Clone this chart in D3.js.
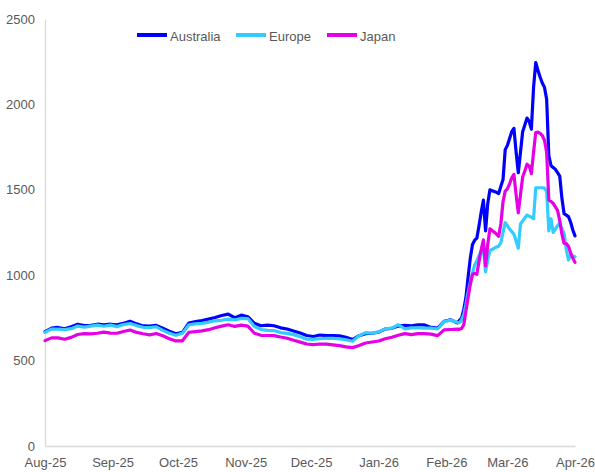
<!DOCTYPE html>
<html>
<head>
<meta charset="utf-8">
<script src="https://cdn.jsdelivr.net/npm/d3@7"></script>
<style>
  html, body { margin: 0; padding: 0; background: #ffffff; }
  svg { display: block; }
  text { font-family: "Liberation Sans", Arial, sans-serif; }
</style>
</head>
<body>
<svg id="chart" width="595" height="472"></svg>
<script>
// ---------- DATA ----------
const dates = [
  "2025-08-01","2025-08-04","2025-08-07","2025-08-10","2025-08-13","2025-08-16","2025-08-19","2025-08-22","2025-08-25","2025-08-28","2025-08-31",
  "2025-09-03","2025-09-06","2025-09-09","2025-09-12","2025-09-15","2025-09-18","2025-09-21","2025-09-24","2025-09-27","2025-09-30",
  "2025-10-03","2025-10-06","2025-10-09","2025-10-12","2025-10-15","2025-10-18","2025-10-21","2025-10-24","2025-10-27","2025-10-30",
  "2025-11-02","2025-11-05","2025-11-08","2025-11-11","2025-11-14","2025-11-17","2025-11-20","2025-11-23","2025-11-26","2025-11-29",
  "2025-12-02","2025-12-05","2025-12-08","2025-12-11","2025-12-14","2025-12-17","2025-12-20","2025-12-23","2025-12-26","2025-12-29",
  "2026-01-01","2026-01-04","2026-01-07","2026-01-10","2026-01-13","2026-01-16","2026-01-19","2026-01-22","2026-01-25","2026-01-28","2026-01-31",
  "2026-02-03","2026-02-06",
  "2026-02-07","2026-02-08","2026-02-09","2026-02-10","2026-02-11","2026-02-12","2026-02-13","2026-02-14","2026-02-15","2026-02-16",
  "2026-02-17","2026-02-18","2026-02-19","2026-02-20","2026-02-21","2026-02-22","2026-02-23","2026-02-24","2026-02-25","2026-02-26",
  "2026-02-27","2026-02-28",
  "2026-03-01","2026-03-02","2026-03-03","2026-03-04","2026-03-05","2026-03-06","2026-03-07","2026-03-08","2026-03-09","2026-03-10",
  "2026-03-11","2026-03-12","2026-03-13","2026-03-14","2026-03-15","2026-03-16","2026-03-17","2026-03-18","2026-03-19","2026-03-20",
  "2026-03-21","2026-03-22","2026-03-23","2026-03-24","2026-03-25","2026-03-26","2026-03-27","2026-03-28","2026-03-29","2026-03-30",
  "2026-03-31","2026-04-01"
];

const australia = [
  670,690,694,686,698,713,705,706,713,710,713,
  709,719,730,715,703,702,706,690,672,657,
  665,720,728,734,743,752,764,772,751,766,
  757,718,704,708,704,692,685,673,662,647,
  641,650,646,646,645,636,623,646,658,660,
  667,685,689,702,706,704,709,709,694,690,730,
  739,721,
  735,748,800,870,990,1100,1180,1205,1217,1290,
  1370,1440,1260,1420,1500,1495,1490,1485,1478,1520,
  1560,1735,
  1760,1800,1840,1860,1720,1600,1720,1840,1880,1920,
  1900,1855,2100,2245,2200,2160,2125,2100,2030,1700,
  1642,1630,1620,1600,1580,1450,1360,1352,1343,1310,
  1265,1230
];

const europe = [
  665,685,684,681,687,702,696,702,708,701,708,
  699,711,717,705,695,693,698,677,660,648,
  660,710,715,718,725,733,736,743,738,747,
  746,700,682,677,676,664,659,652,640,625,
  624,628,630,630,627,622,613,645,664,661,
  668,686,690,710,686,692,692,690,690,685,728,
  737,724,
  722,738,770,830,900,960,1010,1060,1085,1115,
  1140,1150,1020,1090,1145,1150,1158,1165,1170,1190,
  1250,1308,
  1290,1270,1255,1240,1200,1158,1300,1318,1335,1352,
  1345,1340,1330,1512,1512,1512,1512,1510,1490,1260,
  1330,1250,1270,1290,1305,1270,1245,1150,1090,1118,
  1112,1108
];

const japan = [
  617,633,633,625,636,653,658,657,660,667,661,
  660,670,679,665,657,651,659,645,628,615,
  616,666,670,674,681,692,702,710,700,708,
  702,660,648,647,646,638,631,619,608,597,
  593,597,596,592,588,580,576,588,603,609,
  615,628,637,648,658,652,658,658,655,646,680,
  682,684,
  683,688,710,790,870,945,1005,1010,1005,1080,
  1150,1207,1055,1180,1272,1262,1252,1240,1228,1300,
  1430,1492,
  1505,1535,1570,1590,1470,1365,1470,1575,1610,1650,
  1640,1595,1720,1835,1838,1830,1818,1790,1720,1440,
  1432,1420,1400,1380,1320,1240,1187,1185,1170,1130,
  1100,1075
];

const seriesNames = ["Australia", "Europe", "Japan"];
const seriesColors = ["#0000FF", "#33CCFF", "#E600E6"];
const yTicks = [0, 500, 1000, 1500, 2000, 2500];
const xDomain = ["2025-08-01", "2026-04-01"];

// ---------- CHART ----------
(function () {
  const parse = d3.timeParse("%Y-%m-%d");
  const svg = d3.select("#chart");
  const pLeft = 45, pRight = 575, pTop = 19, pBottom = 446;

  const x = d3.scaleTime().domain(xDomain.map(parse)).range([pLeft, pRight]);
  const y = d3.scaleLinear().domain([0, 2500]).range([pBottom, pTop]);

  const textColor = "#595959";
  const axisColor = "#d9d9d9";
  const fontFam = '"Liberation Sans", Arial, sans-serif';

  // Y axis
  const yAxis = svg.append("g")
    .attr("transform", `translate(${pLeft},0)`)
    .call(d3.axisLeft(y).tickValues(yTicks).tickSize(0).tickPadding(10).tickFormat(d3.format("d")));
  yAxis.select(".domain").attr("stroke", axisColor).attr("stroke-width", 1.3);
  yAxis.selectAll("text").attr("fill", textColor).attr("font-size", 13).attr("font-family", fontFam);

  // X axis
  const xAxis = svg.append("g")
    .attr("transform", `translate(0,${pBottom})`)
    .call(d3.axisBottom(x).ticks(d3.timeMonth.every(1)).tickSize(0).tickPadding(12)
          .tickFormat(d3.timeFormat("%b-%y")));
  xAxis.select(".domain").attr("stroke", axisColor).attr("stroke-width", 1.3);
  xAxis.selectAll("text").attr("fill", textColor).attr("font-size", 13).attr("font-family", fontFam);

  // Lines
  const allSeries = [australia, europe, japan];
  const parsedDates = dates.map(parse);
  const line = d3.line()
    .x((d, i) => x(parsedDates[i]))
    .y(d => y(d));

  allSeries.forEach((vals, k) => {
    svg.append("path")
      .datum(vals)
      .attr("fill", "none")
      .attr("stroke", seriesColors[k])
      .attr("stroke-width", 3.2)
      .attr("stroke-linejoin", "round")
      .attr("stroke-linecap", "round")
      .attr("d", line);
  });

  // Legend
  const legendX = [137, 236, 327];
  const legend = svg.append("g");
  seriesNames.forEach((name, k) => {
    legend.append("line")
      .attr("x1", legendX[k]).attr("x2", legendX[k] + 30)
      .attr("y1", 35).attr("y2", 35)
      .attr("stroke", seriesColors[k]).attr("stroke-width", 4);
    legend.append("text")
      .attr("x", legendX[k] + 33).attr("y", 40.5)
      .attr("fill", textColor).attr("font-size", 13).attr("font-family", fontFam)
      .text(name);
  });
})();
</script>
</body>
</html>
